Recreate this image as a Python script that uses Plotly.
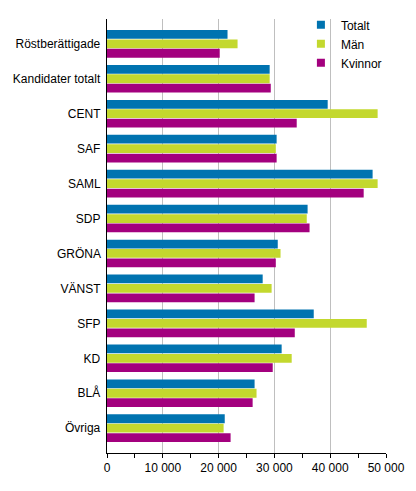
import plotly.graph_objects as go

categories = ["Röstberättigade", "Kandidater totalt", "CENT", "SAF", "SAML", "SDP",
              "GRÖNA", "VÄNST", "SFP", "KD", "BLÅ", "Övriga"]
totalt = [21600, 29150, 39550, 30400, 47600, 35950, 30600, 27900, 37050, 31300, 26450, 21100]
man = [23400, 29150, 48500, 30250, 48500, 35800, 31100, 29500, 46550, 33100, 26800, 20900]
kvinnor = [20200, 29350, 34000, 30400, 46000, 36300, 30250, 26450, 33650, 29700, 26100, 22150]

series = [("Totalt", totalt, "#0073b0"), ("Män", man, "#c3d82e"), ("Kvinnor", kvinnor, "#a3007e")]

fig = go.Figure()
for name, vals, color in series:
    fig.add_trace(go.Bar(y=categories, x=vals, name=name, orientation="h", showlegend=False,
                         marker=dict(color=color, line=dict(width=0))))
# legend entries with small square markers
for name, vals, color in series:
    fig.add_trace(go.Scatter(x=[None], y=[None], mode="markers", name=name,
                             marker=dict(symbol="square", size=8, color=color)))

# page body has an 8px margin, so the figure is made 16px smaller
fig.update_layout(
    width=400, height=475,
    margin=dict(l=99, r=22, t=2, b=30),
    barmode="group", bargap=0.19, bargroupgap=0.07,
    plot_bgcolor="white", paper_bgcolor="white",
    separators=", ",
    font=dict(family="Liberation Sans, Arial", size=12, color="black"),
    legend=dict(x=0.695, y=1.02, xanchor="left", yanchor="top",
                bgcolor="rgba(0,0,0,0)", font=dict(size=12),
                itemwidth=30, tracegroupgap=0),
    showlegend=True,
)
fig.update_xaxes(range=[0, 50000], dtick=10000, tickformat=",d",
                 showgrid=True, gridcolor="#bfbfbf", gridwidth=1,
                 showline=True, linecolor="black", linewidth=1,
                 ticks="outside", ticklen=4, tickcolor="black",
                 minor=dict(ticks="outside", dtick=5000, ticklen=4, tickcolor="black", showgrid=False),
                 zeroline=False, automargin=False)
fig.update_yaxes(range=[11.71, -0.71], showline=True, linecolor="black", linewidth=1,
                 ticks="", showgrid=False, ticksuffix=" ", automargin=False)

fig.write_html("out.html")
